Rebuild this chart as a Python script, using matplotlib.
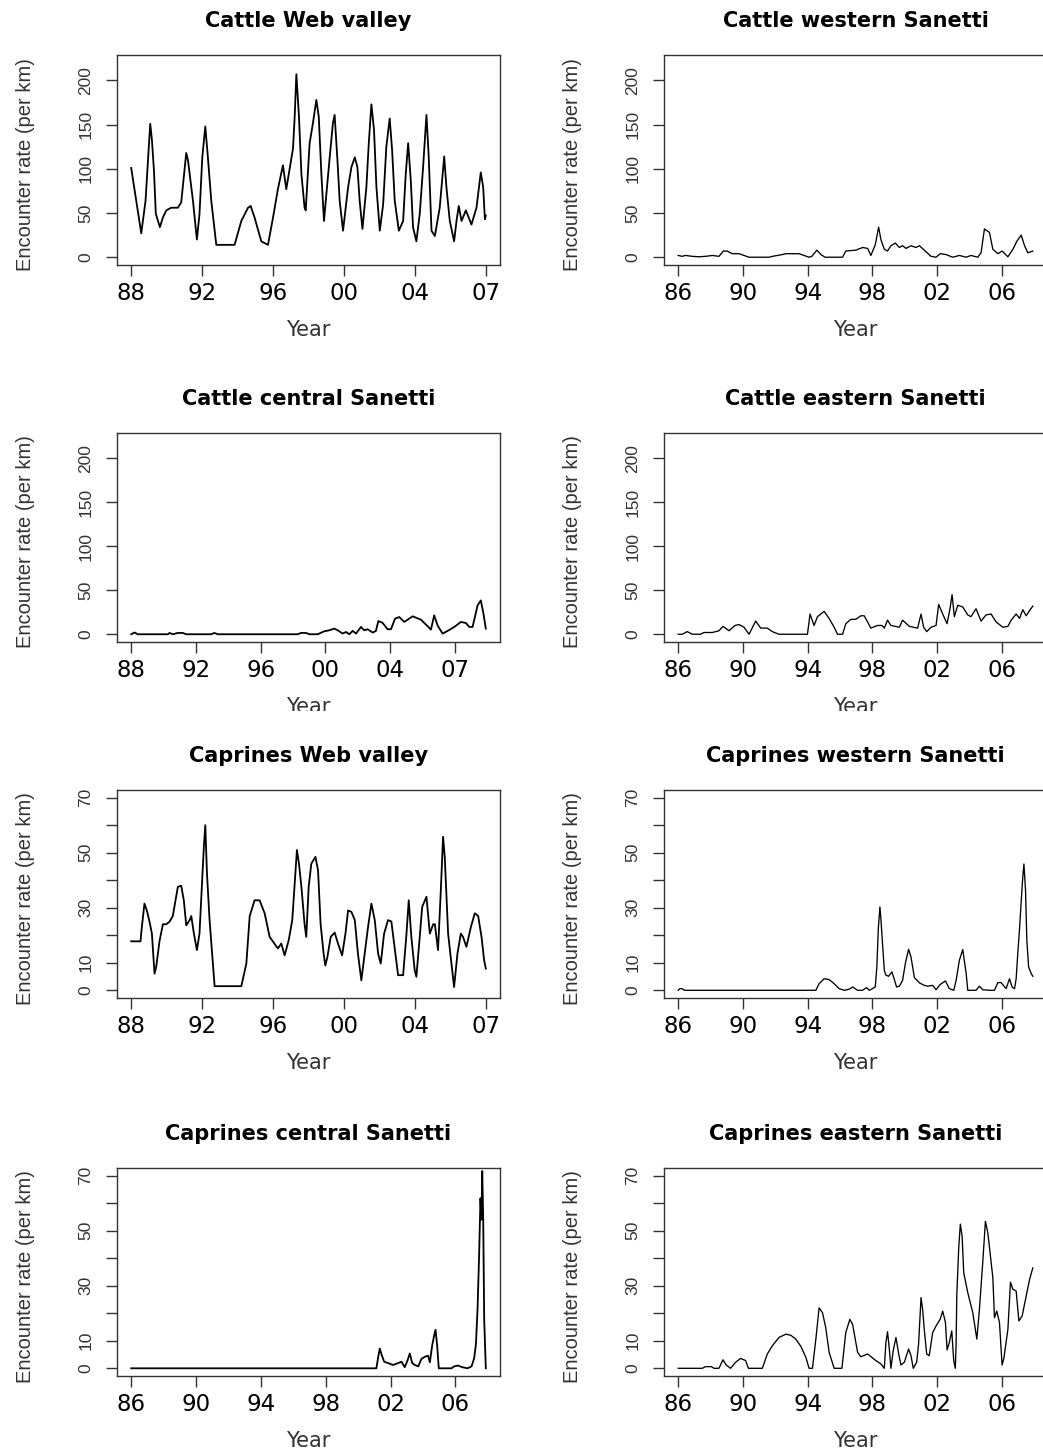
import numpy as np
import matplotlib
matplotlib.use("Agg")
import matplotlib.pyplot as plt
from matplotlib.transforms import Bbox, TransformedBbox


#--------------- Dados ---------------------------------------

## Cattle Web valley
cattle_web_year = [1988.00, 1988.54, 1988.77, 1988.89, 1989.02, 1989.11, 1989.22, 1989.32, 1989.54, 1989.70,
                   1989.88, 1990.14, 1990.50, 1990.68, 1990.95, 1991.04, 1991.31, 1991.52, 1991.66, 1991.81,
                   1991.97, 1992.11, 1992.29, 1992.56, 1993.54, 1993.90, 1994.26, 1994.40, 1994.61, 1994.97,
                   1995.33, 1995.60, 1995.86, 1996.13, 1996.31, 1996.49, 1996.67, 1996.76, 1996.85, 1996.99,
                   1997.12, 1997.29, 1997.35, 1997.56, 1997.74, 1997.92, 1998.05, 1998.19, 1998.33, 1998.46,
                   1998.64, 1998.81, 1998.90, 1999.05, 1999.17, 1999.35, 1999.62, 1999.80, 1999.98, 2000.12,
                   2000.24, 2000.39, 2000.60, 2000.73, 2000.87, 2001.01, 2001.14, 2001.32, 2001.50, 2001.67,
                   2001.85, 2001.98, 2002.12, 2002.34, 2002.57, 2002.71, 2002.84, 2002.98, 2003.10, 2003.28,
                   2003.46, 2003.64, 2003.82, 2003.94, 2004.09, 2004.27, 2004.53, 2004.77, 2004.89, 2005.07,
                   2005.30, 2005.43, 2005.55, 2005.70, 2005.93, 2006.23, 2006.50, 2006.73, 2006.86, 2006.95,
                   2007.00]
cattle_web = [101, 27, 64, 106, 151, 133, 98, 49, 34, 45,
              53, 56, 56, 62, 118, 110, 64, 20, 49, 113,
              148, 113, 64, 14, 14, 41, 56, 58, 45, 18,
              14, 45, 77, 104, 77, 100, 123, 159, 207, 159,
              94, 56, 53, 129, 152, 178, 159, 94, 41, 72,
              114, 152, 161, 110, 64, 30, 79, 102, 113, 102,
              64, 32, 79, 129, 173, 144, 79, 30, 60, 125,
              157, 121, 64, 30, 41, 94, 129, 87, 34, 18,
              49, 102, 161, 114, 30, 24, 56, 114, 79, 41,
              18, 41, 58, 41, 53, 37, 56, 96, 79, 43,
              47]

## Cattle western Sanetti
cattle_west_year = [1986.00, 1986.25, 1986.45, 1986.87, 1987.28, 1987.69, 1988.11, 1988.52, 1988.79, 1989.03,
                    1989.34, 1989.76, 1990.38, 1991.62, 1991.82, 1992.44, 1992.65, 1993.47, 1994.09, 1994.26,
                    1994.57, 1994.82, 1995.08, 1996.16, 1996.36, 1996.98, 1997.40, 1997.71, 1997.91, 1998.18,
                    1998.39, 1998.53, 1998.74, 1998.94, 1999.15, 1999.42, 1999.67, 1999.87, 2000.08, 2000.39,
                    2000.70, 2000.91, 2001.21, 2001.63, 2001.94, 2002.19, 2002.56, 2002.97, 2003.38, 2003.80,
                    2004.10, 2004.52, 2004.72, 2004.93, 2005.24, 2005.45, 2005.76, 2006.02, 2006.38, 2006.69,
                    2006.93, 2007.20, 2007.41, 2007.61, 2007.92]
cattle_west = [2, 1, 2, 1, 0.5, 1, 2, 1, 7, 7,
               4, 4, 0, 0, 1, 3, 4, 4, 0, 1,
               8, 3, 0, 0, 7, 8, 11, 10, 2, 14,
               34, 20, 9, 7, 13, 16, 11, 13, 10, 13,
               11, 13, 8, 1, 0, 4, 3, 0, 2, 0,
               2, 0, 5, 32, 28, 9, 4, 7, 0.5, 9,
               18, 25, 13, 5, 7]

## Cattle central Sanetti
cattle_central_year = [1986.00, 1986.21, 1986.41, 1988.26, 1988.37, 1988.57, 1988.88, 1989.19, 1989.40, 1990.94,
                       1991.14, 1991.35, 1996.29, 1996.49, 1996.80, 1997.01, 1997.52, 1997.93, 1998.24, 1998.55,
                       1998.76, 1999.07, 1999.27, 1999.48, 1999.68, 1999.89, 2000.20, 2000.40, 2000.61, 2000.92,
                       2001.12, 2001.27, 2001.53, 2001.84, 2002.05, 2002.30, 2002.56, 2002.87, 2003.39, 2003.90,
                       2004.42, 2004.52, 2004.72, 2004.93, 2005.24, 2005.55, 2005.96, 2006.37, 2006.68, 2006.89,
                       2007.09, 2007.26, 2007.40, 2007.60, 2007.75, 2007.91]
cattle_central = [0, 2, 0, 0, 1.5, 0, 1.5, 1.5, 0, 0,
                  1.5, 0, 0, 1.5, 1.5, 0, 0, 3.4, 4.5, 6.4,
                  4.5, 0.8, 2.6, 0, 3.8, 0.8, 8.3, 4.5, 5.7, 1.9,
                  3.8, 15, 13, 5.7, 5.7, 17.7, 19.6, 14, 20.4, 16.6,
                  7.2, 5.3, 21.5, 10, 0.8, 3.8, 8.3, 14, 12.8, 8.3,
                  8.3, 21.5, 32.8, 38.5, 25, 6.4]

## Cattle eastern Sanetti
cattle_east_year = [1986.00, 1986.25, 1986.56, 1986.87, 1987.38, 1987.59, 1988.11, 1988.52, 1988.77, 1989.14,
                    1989.51, 1989.76, 1990.07, 1990.38, 1990.79, 1991.10, 1991.51, 1991.82, 1992.23, 1993.99,
                    1994.15, 1994.40, 1994.61, 1995.02, 1995.33, 1995.64, 1995.85, 1996.16, 1996.36, 1996.67,
                    1996.98, 1997.29, 1997.50, 1997.91, 1998.32, 1998.59, 1998.74, 1998.94, 1999.15, 1999.67,
                    1999.87, 2000.29, 2000.80, 2001.01, 2001.17, 2001.36, 2001.63, 2001.94, 2002.10, 2002.35,
                    2002.62, 2002.80, 2002.93, 2003.07, 2003.28, 2003.59, 2003.90, 2004.10, 2004.41, 2004.72,
                    2005.03, 2005.34, 2005.65, 2006.07, 2006.38, 2006.58, 2006.89, 2007.10, 2007.30, 2007.51,
                    2007.72, 2007.92]
cattle_east = [0, 0, 3, 0, 0, 2, 2, 4, 9, 4,
               10, 11, 8, 0, 15, 7, 7, 3, 0, 0,
               23, 10, 20, 26, 18, 8, 0, 0, 12, 17,
               17, 21, 21, 7, 10, 10, 7, 16, 10, 8,
               16, 9, 7, 23, 8, 3, 8, 10, 34, 23,
               12, 29, 45, 20, 33, 31, 22, 20, 29, 15,
               22, 23, 14, 8, 9, 16, 23, 18, 28, 21,
               27, 32]

## Caprines Web valley
caprines_web_year = [1988.00, 1988.50, 1988.54, 1988.71, 1988.84, 1988.98, 1989.11, 1989.25, 1989.34, 1989.52,
                     1989.70, 1989.88, 1990.06, 1990.23, 1990.50, 1990.68, 1990.82, 1990.95, 1991.13, 1991.22,
                     1991.36, 1991.52, 1991.66, 1991.81, 1991.90, 1991.97, 1992.06, 1992.20, 1992.47, 1993.90,
                     1994.17, 1994.35, 1994.61, 1994.88, 1995.15, 1995.42, 1995.86, 1996.04, 1996.22, 1996.44,
                     1996.63, 1996.76, 1996.88, 1996.99, 1997.12, 1997.29, 1997.38, 1997.51, 1997.65, 1997.87,
                     1998.01, 1998.15, 1998.31, 1998.40, 1998.51, 1998.69, 1998.90, 1999.08, 1999.30, 1999.48,
                     1999.62, 1999.80, 1999.98, 2000.15, 2000.33, 2000.51, 2000.69, 2000.87, 2001.05, 2001.23,
                     2001.37, 2001.55, 2001.76, 2001.94, 2002.12, 2002.30, 2002.57, 2002.75, 2002.87, 2003.01,
                     2003.19, 2003.28, 2003.46, 2003.59, 2003.82, 2004.00, 2004.18, 2004.27, 2004.44, 2004.59,
                     2004.71, 2004.80, 2004.98, 2005.12, 2005.30, 2005.48, 2005.66, 2005.78, 2005.96, 2006.20,
                     2006.41, 2006.59, 2006.77, 2006.91, 2007.00]
caprines_web = [17.8, 17.8, 21, 31.5, 29, 25, 20.6, 6, 8.5, 18,
                24, 24, 25, 27, 37.6, 38, 32.7, 23.6, 25.5, 27,
                20.6, 14.6, 20.6, 41, 53, 60, 42.5, 25.5, 1.5, 1.5,
                9.7, 27, 32.7, 32.7, 28, 19.4, 15.2, 17, 12.7, 18.2,
                25.5, 38.8, 51, 46, 37.6, 24, 19.4, 37.6, 46, 48.5,
                43.7, 24, 13.3, 9, 12, 19.4, 21, 17, 12.7, 20.6,
                29, 28.5, 25.5, 13.3, 3.6, 13.3, 23, 31.5, 25.5, 13.3,
                9.7, 20.6, 25.5, 25, 15.2, 5.5, 5.5, 20.6, 32.7, 19.4,
                7.3, 4.9, 19.4, 30.3, 34, 20.6, 24, 24, 14.6, 36.4,
                55.8, 48.5, 20.6, 12, 1.2, 13.3, 20.6, 19.4, 15.8, 23,
                28, 27, 19.4, 10.9, 7.9]

## Caprines western Sanetti
caprines_west_year = [1986.00, 1986.10, 1986.25, 1986.39, 1994.51, 1994.71, 1995.02, 1995.33, 1995.64, 1995.95,
                      1996.26, 1996.57, 1996.78, 1997.09, 1997.40, 1997.64, 1997.81, 1998.01, 1998.18, 1998.28,
                      1998.37, 1998.47, 1998.53, 1998.63, 1998.74, 1998.84, 1999.01, 1999.21, 1999.36, 1999.50,
                      1999.67, 1999.87, 2000.04, 2000.24, 2000.39, 2000.60, 2000.91, 2001.21, 2001.42, 2001.73,
                      2001.94, 2002.19, 2002.52, 2002.76, 2003.03, 2003.18, 2003.38, 2003.59, 2003.80, 2003.90,
                      2004.41, 2004.62, 2004.83, 2005.24, 2005.55, 2005.76, 2005.96, 2006.27, 2006.48, 2006.64,
                      2006.79, 2006.89, 2006.99, 2007.10, 2007.20, 2007.30, 2007.37, 2007.47, 2007.55, 2007.66,
                      2007.82, 2007.92]
caprines_west = [0, 0.6, 0.6, 0, 0, 2.4, 4.2, 3.9, 2.4, 0.6,
                 0, 0.4, 1.2, 0, 0, 1, 0, 0.6, 1.2, 8.5,
                 22.4, 30.3, 26, 17, 7.3, 5.5, 5.1, 6.7, 3.9, 1.2,
                 1.5, 3.6, 9.7, 14.9, 12.1, 4.6, 2.7, 1.8, 1.5, 1.8,
                 0.2, 2.1, 3.4, 0.6, 0, 3.6, 10.9, 14.8, 6.1, 0,
                 0, 1.5, 0.2, 0, 0, 2.8, 2.8, 0.6, 4.2, 1.2,
                 0.6, 4.2, 13.3, 22.4, 32.1, 41.2, 45.9, 36.4, 18.2, 8.5,
                 6.1, 5.1]

## Caprines central Sanetti
caprines_central_year = [1986.00, 2001.12, 2001.23, 2001.33, 2001.43, 2001.60, 2001.84, 2002.15, 2002.46, 2002.67,
                         2002.87, 2003.04, 2003.18, 2003.33, 2003.49, 2003.70, 2003.90, 2004.11, 2004.31, 2004.42,
                         2004.56, 2004.68, 2004.77, 2004.87, 2004.97, 2005.75, 2005.92, 2006.16, 2006.41, 2006.74,
                         2006.99, 2007.15, 2007.26, 2007.36, 2007.46, 2007.54, 2007.60, 2007.65, 2007.71, 2007.77,
                         2007.87]
caprines_central = [0, 0, 4, 7.2, 5.2, 2.4, 1.9, 1.2, 1.9, 2.4,
                    0.4, 2.8, 5.4, 1.9, 1.2, 0.7, 3.4, 4.2, 4.6, 2.2,
                    8.2, 11.8, 14, 8.2, 0, 0, 0.7, 1, 0.4, 0,
                    0.7, 3.6, 8.8, 21.4, 41.9, 61.8, 54, 71.7, 54, 17.8,
                    0]

## Caprines eastern Sanetti
caprines_east_year = [1986.00, 1987.49, 1987.69, 1988.06, 1988.21, 1988.52, 1988.77, 1988.97, 1989.24, 1989.55,
                      1989.86, 1990.17, 1990.34, 1991.20, 1991.51, 1991.82, 1992.23, 1992.65, 1992.96, 1993.27,
                      1993.58, 1993.89, 1994.09, 1994.30, 1994.51, 1994.71, 1994.92, 1995.12, 1995.33, 1995.64,
                      1996.12, 1996.36, 1996.61, 1996.78, 1997.09, 1997.29, 1997.71, 1998.22, 1998.53, 1998.74,
                      1998.84, 1998.94, 1999.05, 1999.15, 1999.29, 1999.46, 1999.63, 1999.77, 1999.98, 2000.24,
                      2000.39, 2000.53, 2000.74, 2000.86, 2001.01, 2001.11, 2001.21, 2001.36, 2001.52, 2001.73,
                      2001.94, 2002.19, 2002.35, 2002.52, 2002.62, 2002.76, 2002.91, 2003.03, 2003.13, 2003.18,
                      2003.22, 2003.34, 2003.44, 2003.55, 2003.65, 2003.90, 2004.21, 2004.46, 2004.62, 2004.83,
                      2004.99, 2005.14, 2005.28, 2005.45, 2005.55, 2005.69, 2005.86, 2006.02, 2006.13, 2006.38,
                      2006.54, 2006.69, 2006.89, 2007.06, 2007.26, 2007.47, 2007.72, 2007.92]
caprines_east = [0, 0, 0.6, 0.6, 0, 0, 3.1, 1.2, 0, 2.2,
                 3.6, 2.8, 0, 0, 5.2, 8.2, 11.2, 12.4, 12, 10.6,
                 8, 4, 0, 0, 10.6, 22, 20.2, 14.8, 5.8, 0,
                 0, 13, 17.8, 16, 5.8, 4.2, 5.2, 2.8, 1.6, 0,
                 9.4, 13.3, 7, 0, 6.4, 11.2, 5.2, 1.2, 2.2, 7,
                 4.6, 0, 2.2, 8.8, 25.7, 21.4, 14.2, 5.2, 4.6, 13,
                 15.4, 17.8, 20.8, 16.6, 6.7, 9.4, 13.6, 2.8, 0, 9.4,
                 26.3, 43.7, 52.4, 48, 34.7, 27.5, 20.2, 10.6, 21.4, 38.9,
                 53.4, 49.2, 41.9, 32.9, 18.4, 20.8, 16.6, 1.2, 3.6, 14.2,
                 31.3, 28.7, 28.1, 17.2, 19, 25.1, 32.3, 36.5]

## Rótulos dos eixos
labels_88 = ["88", "92", "96", "00", "04", "07"]
labels_86 = ["86", "90", "94", "98", "02", "06"]
cattle_yticks = [0, 50, 100, 150, 200]
cattle_ylabels = ["0", "50", "100", "150", "200"]
caprines_yticks = [0, 10, 20, 30, 40, 50, 60, 70]
caprines_ylabels = ["0", "10", "", "30", "", "50", "", "70"]


#--------------- Layout (pixels da figura original) ---------------------
W, H = 1043, 1454
col_left = [117, 664]
col_width = 383
rows = [(55, 265), (433, 642), (790, 998), (1168, 1376)]
line_w = [1.3, 0.95]

ticks_web = np.linspace(1988, 2007, 6)
ticks_4yr = np.arange(1986, 2007, 4)

panels = [
    (0, 0, "Cattle Web valley", cattle_web_year, cattle_web, "cattle", ticks_web, labels_88),
    (0, 1, "Cattle western Sanetti", cattle_west_year, cattle_west, "cattle", ticks_4yr, labels_86),
    (1, 0, "Cattle central Sanetti", cattle_central_year, cattle_central, "cattle", ticks_4yr, labels_88),
    (1, 1, "Cattle eastern Sanetti", cattle_east_year, cattle_east, "cattle", ticks_4yr, labels_86),
    (2, 0, "Caprines Web valley", caprines_web_year, caprines_web, "caprines", ticks_web, labels_88),
    (2, 1, "Caprines western Sanetti", caprines_west_year, caprines_west, "caprines", ticks_4yr, labels_86),
    (3, 0, "Caprines central Sanetti", caprines_central_year, caprines_central, "caprines", ticks_4yr, labels_86),
    (3, 1, "Caprines eastern Sanetti", caprines_east_year, caprines_east, "caprines", ticks_4yr, labels_86),
]

sans = ["Liberation Sans", "DejaVu Sans"]
grey = "#333333"

fig = plt.figure(figsize=(W / 100, H / 100), dpi=100)

for row, col, title, xs, ys, kind, xt, xl in panels:
    top, bottom = rows[row]
    ax = fig.add_axes([col_left[col] / W, 1 - bottom / H, col_width / W, (bottom - top) / H])
    ax.plot(xs, ys, color="black", lw=line_w[col])

    # limites estilo R (4% de folga)
    lo, hi = min(xs), max(xs)
    pad = 0.04 * (hi - lo)
    ax.set_xlim(lo - pad, hi + pad)
    if kind == "cattle":
        ax.set_ylim(-8.8, 228.8)
        ax.set_yticks(cattle_yticks)
        ax.set_yticklabels(cattle_ylabels)
    else:
        ax.set_ylim(-2.8, 72.8)
        ax.set_yticks(caprines_yticks)
        ax.set_yticklabels(caprines_ylabels)

    ax.set_xticks(xt)
    ax.set_xticklabels(xl, fontsize=16.5, family="DejaVu Sans")
    for t in ax.get_yticklabels():
        t.set_rotation(90)
        t.set_va("center")
        t.set_family(sans)
        t.set_fontsize(12.5)
        t.set_color(grey)

    ax.tick_params(direction="out", length=8, width=1.0, color=grey)
    ax.tick_params(axis="y", pad=9)
    ax.tick_params(axis="x", pad=4)
    for s in ax.spines.values():
        s.set_color(grey)
        s.set_linewidth(1.0)

    ax.set_title(title, fontsize=15, fontweight="bold", family="DejaVu Sans", pad=20)
    ax.set_ylabel("Encounter rate (per km)", fontsize=14.5, family=sans, color=grey)
    ax.yaxis.set_label_coords(-91 / col_width, 0.48)
    ax.yaxis.label.set_va("center")
    ax.set_xlabel("Year", fontsize=15, family="DejaVu Sans", color=grey)
    ax.xaxis.set_label_coords(0.5, -65 / (bottom - top))
    ax.xaxis.label.set_va("center")

    # o rótulo "Year" da segunda linha aparece cortado no original
    if row == 1:
        clip = TransformedBbox(Bbox([[0, 1 - 711 / H], [1, 1]]), fig.transFigure)
        ax.xaxis.label.set_clip_box(clip)
        ax.xaxis.label.set_clip_on(True)

fig.savefig("out.png", dpi=100)
